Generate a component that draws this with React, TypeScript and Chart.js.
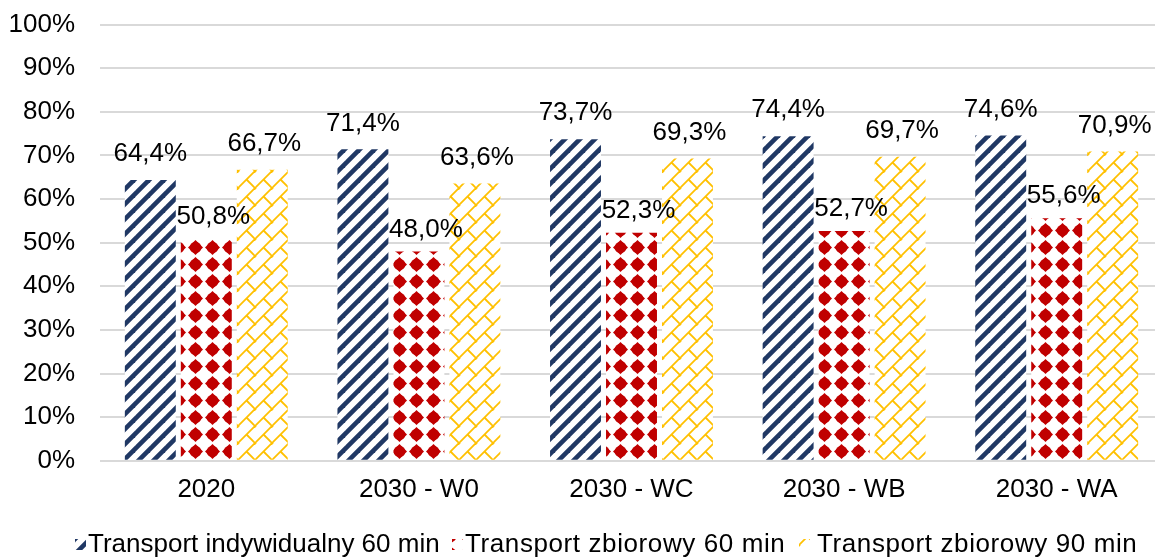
import React, { useEffect, useRef } from 'react';
import { Chart, registerables } from 'chart.js';

Chart.register(...registerables);

const categories = ['2020', '2030 - W0', '2030 - WC', '2030 - WB', '2030 - WA'];
const seriesNames = ['Transport indywidualny 60 min', 'Transport zbiorowy 60 min', 'Transport zbiorowy 90 min'];
const indywidualny60 = [64.4, 71.4, 73.7, 74.4, 74.6];
const zbiorowy60 = [50.8, 48.0, 52.3, 52.7, 55.6];
const zbiorowy90 = [66.7, 63.6, 69.3, 69.7, 70.9];
const yMin = 0;
const yMax = 100;
const yStep = 10;

const FONT = '"Liberation Sans", Arial, sans-serif';
const FONT_SIZE = 26;
const NAVY = '#203864';
const RED = '#C00000';
const GOLD = '#FFC000';
const SHIFT = 16;

function makeTile(size: number, draw: (c: CanvasRenderingContext2D, s: number) => void): CanvasPattern {
  const cv = document.createElement('canvas');
  cv.width = size;
  cv.height = size;
  const c = cv.getContext('2d')!;
  c.fillStyle = '#ffffff';
  c.fillRect(0, 0, size, size);
  draw(c, size);
  const ctx = document.createElement('canvas').getContext('2d')!;
  return ctx.createPattern(cv, 'repeat')!;
}

function stripePattern() {
  return makeTile(15, (c, s) => {
    c.strokeStyle = NAVY;
    c.lineWidth = 4.6;
    for (const k of [-s, 0, s]) {
      c.beginPath();
      c.moveTo(k - 2, s + 2);
      c.lineTo(k + s + 2, -2);
      c.stroke();
    }
  });
}

function dotPattern() {
  return makeTile(17, (c, s) => {
    c.fillStyle = RED;
    const cx = s / 2;
    const cy = s / 2;
    const r = 7.5;
    c.beginPath();
    c.moveTo(cx, cy - r);
    c.lineTo(cx + r, cy);
    c.lineTo(cx, cy + r);
    c.lineTo(cx - r, cy);
    c.closePath();
    c.fill();
    c.beginPath();
    c.arc(cx, cy, 5.8, 0, Math.PI * 2);
    c.fill();
  });
}

function brickPattern() {
  return makeTile(17, (c, s) => {
    c.strokeStyle = GOLD;
    c.lineWidth = 1.8;
    for (const k of [0, s, 2 * s]) {
      c.beginPath();
      c.moveTo(k - s - 1, s + 1);
      c.lineTo(k + 1, -1);
      c.stroke();
    }
    c.beginPath();
    c.moveTo(s / 2, s / 2);
    c.lineTo(s + 1, s + 1);
    c.stroke();
    c.beginPath();
    c.moveTo(-s / 2, -s / 2);
    c.lineTo(1, 1);
    c.stroke();
  });
}

const fmt = (v: number) => v.toFixed(1).replace('.', ',') + '%';

const labelOffsets = [
  { dx: 0, dy: 26 },
  { dx: 7, dy: 22 },
  { dx: 2, dy: 26 },
];

const legendItems = [
  { icon: 75, text: 88, spacing: 0 },
  { icon: 452, text: 465, spacing: 0.6 },
  { icon: 799, text: 817, spacing: 0.6 },
];

const dataLabelPlugin = {
  id: 'dataLabels',
  afterDatasetsDraw(chart: any) {
    const ctx = chart.ctx;
    ctx.save();
    ctx.font = `${FONT_SIZE}px ${FONT}`;
    ctx.fillStyle = '#000';
    ctx.textAlign = 'center';
    ctx.textBaseline = 'middle';
    chart.data.datasets.forEach((ds: any, i: number) => {
      const meta = chart.getDatasetMeta(i);
      meta.data.forEach((el: any, j: number) => {
        const o = labelOffsets[i];
        ctx.fillText(fmt(ds.data[j]), el.x + o.dx, el.y - o.dy);
      });
    });
    ctx.restore();
  },
};

const legendPlugin = {
  id: 'customLegend',
  afterDraw(chart: any) {
    const ctx = chart.ctx;
    const y = 545 + SHIFT;
    chart.data.datasets.forEach((ds: any, i: number) => {
      const it = legendItems[i];
      ctx.save();
      ctx.fillStyle = ds.backgroundColor;
      ctx.fillRect(it.icon, y - 6, 11, 11);
      ctx.font = `${FONT_SIZE}px ${FONT}`;
      ctx.textBaseline = 'middle';
      ctx.textAlign = 'left';
      (ctx as any).letterSpacing = it.spacing + 'px';
      ctx.fillStyle = '#000';
      ctx.fillText(ds.label, it.text, y);
      ctx.restore();
    });
  },
};

export default function App() {
  const ref = useRef<HTMLCanvasElement>(null);
  useEffect(() => {
    if (!ref.current) return;
    const chart = new Chart(ref.current, {
      type: 'bar',
      data: {
        labels: categories,
        datasets: [
          { label: seriesNames[0], data: indywidualny60, backgroundColor: stripePattern() as any },
          { label: seriesNames[1], data: zbiorowy60, backgroundColor: dotPattern() as any },
          { label: seriesNames[2], data: zbiorowy90, backgroundColor: brickPattern() as any },
        ],
      },
      options: {
        responsive: false,
        animation: false,
        devicePixelRatio: 1,
        layout: { padding: { top: 8, right: 0, bottom: 41, left: 0 } },
        datasets: { bar: { categoryPercentage: 0.79, barPercentage: 0.91 } },
        plugins: { legend: { display: false }, tooltip: { enabled: false } },
        scales: {
          x: {
            grid: { display: false, drawTicks: false },
            border: { display: false },
            ticks: { font: { family: FONT, size: FONT_SIZE }, color: '#000', padding: 13 },
          },
          y: {
            min: yMin,
            max: yMax,
            afterFit: (s: any) => { s.width = 100; },
            grid: { color: '#d9d9d9', lineWidth: 2, drawTicks: false },
            border: { display: false },
            ticks: {
              stepSize: yStep,
              padding: 25,
              color: '#000',
              font: { family: FONT, size: FONT_SIZE },
              callback: (v: any) => v + '%',
            },
          },
        },
      },
      plugins: [dataLabelPlugin, legendPlugin],
    });
    return () => chart.destroy();
  }, []);
  return (
    <div style={{ position: 'fixed', left: 0, top: 0, width: 1155, height: 559, overflow: 'hidden', background: '#fff' }}>
      <canvas
        ref={ref}
        width={1163}
        height={559 + SHIFT}
        style={{ width: 1163, height: 559 + SHIFT, display: 'block', marginTop: -SHIFT }}
      />
    </div>
  );
}
